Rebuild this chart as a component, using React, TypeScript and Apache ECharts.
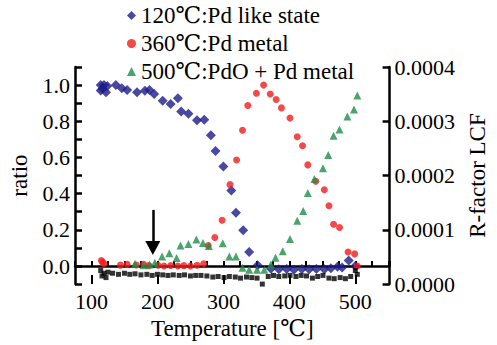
import React, { useEffect, useRef } from "react";
import * as echarts from "echarts";

const legendNames = ["120℃:Pd like state", "360℃:Pd metal", "500℃:PdO + Pd metal"];
const xLabelValues = [100, 200, 300, 400, 500];

// [temperature (℃), ratio]
const pdLike: [number, number][] = [
  [114, 1.0], [114, 0.97], [117, 0.98], [119, 1.0], [122, 0.96], [124, 0.995],
  [137, 1.0], [146, 0.982], [154, 0.973], [169, 0.96], [181, 0.969], [188, 0.973],
  [195, 0.951], [208, 0.914], [220, 0.896], [231, 0.927], [236, 0.854], [247, 0.842],
  [260, 0.805], [271, 0.809], [281, 0.723], [288, 0.636], [300, 0.55], [312, 0.417],
  [319, 0.295], [330, 0.198], [339, 0.077], [352, 0.004], [372, -0.015], [384, -0.018],
  [396, -0.016], [407, -0.02], [419, -0.016], [430, -0.018], [441, -0.016], [453, -0.018],
  [463, -0.012], [473, -0.004], [480, -0.008], [490, 0.03], [500, 0.0],
];

const pdMetal: [number, number][] = [
  [115, 0.03], [117, 0.02], [119, 0.012], [144, 0.005], [154, 0.01], [168, 0.006],
  [179, 0.01], [187, 0.002], [201, 0.004], [210, 0.0], [220, 0.003], [231, 0.0],
  [240, 0.002], [250, 0.0], [260, 0.004], [270, 0.012], [277, 0.113], [287, 0.158],
  [298, 0.253], [310, 0.45], [320, 0.586], [329, 0.75], [337, 0.887], [350, 0.955],
  [361, 1.0], [371, 0.951], [380, 0.92], [388, 0.874], [401, 0.818], [412, 0.714],
  [420, 0.665], [428, 0.559], [440, 0.468], [453, 0.422], [460, 0.333], [467, 0.231],
  [476, 0.213], [489, 0.077], [499, 0.067], [503, 0.0],
];

const pdoPdMetal: [number, number][] = [
  [166, 0.012], [179, 0.004], [188, 0.008], [196, 0.018], [207, 0.053], [218, 0.071],
  [229, 0.044], [235, 0.113], [247, 0.122], [259, 0.146], [269, 0.127], [278, 0.11],
  [299, 0.126], [309, 0.053], [319, 0.053], [329, -0.01], [339, -0.02], [351, -0.02],
  [362, -0.02], [372, 0.009], [379, 0.045], [390, 0.082], [401, 0.149], [412, 0.25],
  [421, 0.304], [428, 0.404], [438, 0.481], [451, 0.541], [459, 0.614], [467, 0.72],
  [476, 0.754], [488, 0.827], [498, 0.865], [503, 0.942],
];

// [temperature (℃), R-factor]
const rFactor: [number, number][] = [
  [114, 0.000025], [116, 0.000015], [119, 0.00002], [122, 0.000012], [125, 0.000022],
  [132, 0.00002], [141, 0.000018], [150, 0.00002], [158, 0.000018], [166, 0.000019],
  [175, 0.000017], [184, 0.000018], [192, 0.000016], [200, 0.000018], [208, 0.000017],
  [216, 0.000016], [224, 0.000017], [233, 0.000016], [241, 0.000017], [250, 0.000015],
  [258, 0.000016], [266, 0.000016], [275, 0.000015], [284, 0.000013], [292, 0.000014],
  [301, 0.000012], [309, 0.000014], [318, 0.000013], [326, 0.000011], [335, 0.000013],
  [343, 0.000012], [351, 0.000011], [359, 0.0], [368, 0.000014], [376, 0.000016],
  [384, 0.000014], [393, 0.000015], [401, 0.000016], [410, 0.000014], [418, 0.000016],
  [426, 0.000015], [435, 0.000011], [443, 0.000014], [451, 0.000016], [460, 0.000011],
  [468, 0.00001], [477, 0.000012], [485, 0.00001], [493, 0.000014], [500, 0.000025],
  [503, 0.000018],
];

// annotation arrow: [temperature, ratio from, ratio to]
const arrowMark = { temp: 193, from: 0.31, to: 0.1 };

const FONT = "Liberation Serif, DejaVu Serif, Times New Roman, serif";

export default function App() {
  const ref = useRef<HTMLDivElement>(null);

  useEffect(() => {
    if (!ref.current) return;
    const chart = echarts.init(ref.current, undefined, { renderer: "svg" });
    const axisLine = { show: true, lineStyle: { color: "#000", width: 2.5 } };
    const option: any = {
      animation: false,
      backgroundColor: "#fff",
      textStyle: { fontFamily: FONT },
      grid: { left: 73, right: 104, top: 67, bottom: 55, containLabel: false },
      legend: {
        orient: "vertical",
        left: 122,
        top: -1,
        itemGap: 5,
        itemWidth: 9,
        itemHeight: 9,
        textStyle: { fontFamily: FONT, fontSize: 23, color: "#000" },
        data: [
          { name: legendNames[0], icon: "diamond" },
          { name: legendNames[1], icon: "circle" },
          { name: legendNames[2], icon: "triangle" },
        ],
      },
      xAxis: [
        {
          type: "value",
          min: 75,
          max: 552,
          interval: 25,
          position: "bottom",
          axisLine,
          axisTick: { show: true, inside: true, length: 5, lineStyle: { color: "#000", width: 2 } },
          axisLabel: {
            color: "#000",
            fontFamily: FONT,
            fontSize: 22,
            margin: 6,
            formatter: (v: number) => (xLabelValues.includes(Math.round(v)) ? String(Math.round(v)) : ""),
          },
          splitLine: { show: false },
          name: "Temperature [℃]",
          nameLocation: "middle",
          nameGap: 28,
          nameTextStyle: { color: "#000", fontFamily: FONT, fontSize: 23 },
        },
        {
          type: "value",
          min: 75,
          max: 552,
          position: "bottom",
          axisLine: { show: false },
          axisTick: {
            show: true,
            inside: true,
            length: 9,
            customValues: xLabelValues,
            lineStyle: { color: "#000", width: 2 },
          },
          axisLabel: { show: false },
          splitLine: { show: false },
        },
      ],
      yAxis: [
        {
          type: "value",
          min: -0.1,
          max: 1.1,
          interval: 0.1,
          position: "left",
          axisLine,
          axisTick: { show: true, inside: true, length: 7, lineStyle: { color: "#000", width: 2.5 } },
          axisLabel: {
            color: "#000",
            fontFamily: FONT,
            fontSize: 22,
            margin: 5,
            formatter: (v: number) => {
              const k = Math.round(v * 10);
              return k >= 0 && k <= 10 && k % 2 === 0 ? (k / 10).toFixed(1) : "";
            },
          },
          splitLine: { show: false },
          name: "ratio",
          nameLocation: "middle",
          nameRotate: 90,
          nameGap: 44,
          nameTextStyle: { color: "#000", fontFamily: FONT, fontSize: 23 },
        },
        {
          type: "value",
          min: 0,
          max: 0.0004,
          interval: 0.0001,
          position: "right",
          axisLine,
          axisTick: { show: true, inside: true, length: 7, lineStyle: { color: "#000", width: 2.5 } },
          axisLabel: {
            color: "#000",
            fontFamily: FONT,
            fontSize: 22,
            margin: 5,
            formatter: (v: number) => v.toFixed(4),
          },
          splitLine: { show: false },
          name: "R-factor LCF",
          nameLocation: "middle",
          nameRotate: 90,
          nameGap: 76,
          nameTextStyle: { color: "#000", fontFamily: FONT, fontSize: 23 },
        },
      ],
      series: [
        {
          name: legendNames[0],
          type: "scatter",
          xAxisIndex: 0,
          yAxisIndex: 0,
          symbol: "diamond",
          symbolSize: 10,
          itemStyle: { color: "#1b1b8a" },
          data: pdLike,
          markLine: {
            silent: true,
            symbol: ["none", "triangle"],
            symbolSize: [15, 14],
            label: { show: false },
            lineStyle: { color: "#000", width: 2.5, type: "solid" },
            itemStyle: { color: "#000" },
            data: [[
              { coord: [arrowMark.temp, arrowMark.from] },
              { coord: [arrowMark.temp, arrowMark.to] },
            ]],
          },
        },
        {
          name: legendNames[1],
          type: "scatter",
          xAxisIndex: 0,
          yAxisIndex: 0,
          symbol: "circle",
          symbolSize: 7,
          itemStyle: { color: "#f21c1c" },
          data: pdMetal,
        },
        {
          name: legendNames[2],
          type: "scatter",
          xAxisIndex: 0,
          yAxisIndex: 0,
          symbol: "triangle",
          symbolSize: 8,
          itemStyle: { color: "#1e8f46" },
          data: pdoPdMetal,
        },
        {
          name: "R-factor",
          type: "scatter",
          xAxisIndex: 0,
          yAxisIndex: 1,
          symbol: "rect",
          symbolSize: 5,
          itemStyle: { color: "#000" },
          data: rFactor,
        },
      ],
    };
    chart.setOption(option);
    return () => chart.dispose();
  }, []);

  return (
    <div
      ref={ref}
      style={{ position: "fixed", left: 0, top: 0, width: 497, height: 345, background: "#fff" }}
    />
  );
}
